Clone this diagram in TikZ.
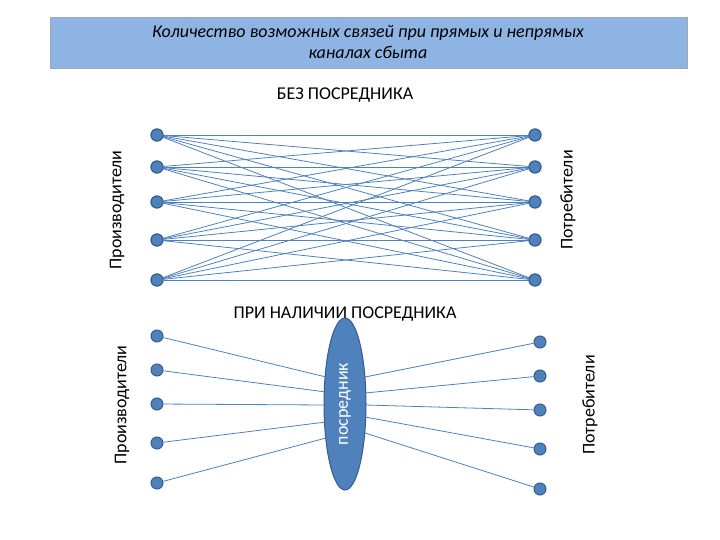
\documentclass[tikz,border=0pt]{standalone}
\usepackage{fontspec}
\setmainfont{Carlito}
\usetikzlibrary{shapes.geometric}
\definecolor{acc}{HTML}{4F81BD}
\definecolor{accd}{HTML}{385D8A}
\definecolor{hdr}{HTML}{8DB4E2}
\tikzset{dot/.style={circle,fill=acc,draw=accd,line width=1pt,minimum size=12pt,inner sep=0pt},
link/.style={draw=acc,line width=0.8pt},
lbl/.style={font=\fontsize{18}{20}\selectfont}}
\begin{document}
\begin{tikzpicture}[x=1pt,y=-1pt]
\useasboundingbox (0,0) rectangle (720,540);
\node[draw=gray!70,fill=hdr,minimum width=637pt,minimum height=51pt,anchor=north west,inner sep=0pt] (hb) at (50,17) {};
\node[align=center,font=\itshape\fontsize{18}{21}\selectfont] (ht) at (368,42) {Количество возможных связей при прямых и непрямых\\каналах сбыта};
\node[lbl] (t1) at (345,95) {БЕЗ ПОСРЕДНИКА};
\node[lbl,rotate=90] (p1) at (117,210) {Производители};
\node[lbl,rotate=90] (c1) at (568,200) {Потребители};
\foreach \i/\y in {1/135,2/167,3/202,4/240,5/280}{
  \node[dot] (L\i) at (157,\y) {};
  \node[dot] (R\i) at (535,\y) {};
}
\foreach \i in {1,...,5}{\foreach \j in {1,...,5}{\draw[link] (L\i) -- (R\j);}}
\foreach \i in {1,...,5}{\node[dot] at (L\i) {}; \node[dot] at (R\i) {};}
\node[lbl] (t2) at (345,314) {ПРИ НАЛИЧИИ ПОСРЕДНИКА};
\node[lbl,rotate=90] (p2) at (122,405) {Производители};
\node[lbl,rotate=90] (c2) at (590,405) {Потребители};
\node[ellipse,fill=acc,draw=accd,line width=1pt,minimum width=42pt,minimum height=172pt,inner sep=0pt] (m) at (345,404) {};
\node[rotate=90,text=white,lbl] at (m) {посредник};
\foreach \i/\y/\ey in {1/336/377,2/370/392,3/404/405,4/443/422,5/483/438}{
  \node[dot] (A\i) at (157,\y) {};
  \coordinate (ea\i) at (326,\ey);
  \draw[link] (A\i) -- (ea\i);
}
\foreach \i/\y/\ey in {1/342/377,2/376/393,3/410/405,4/449/417,5/489/433}{
  \node[dot] (B\i) at (540,\y) {};
  \coordinate (eb\i) at (365,\ey);
  \draw[link] (B\i) -- (eb\i);
}
\end{tikzpicture}
\end{document}
